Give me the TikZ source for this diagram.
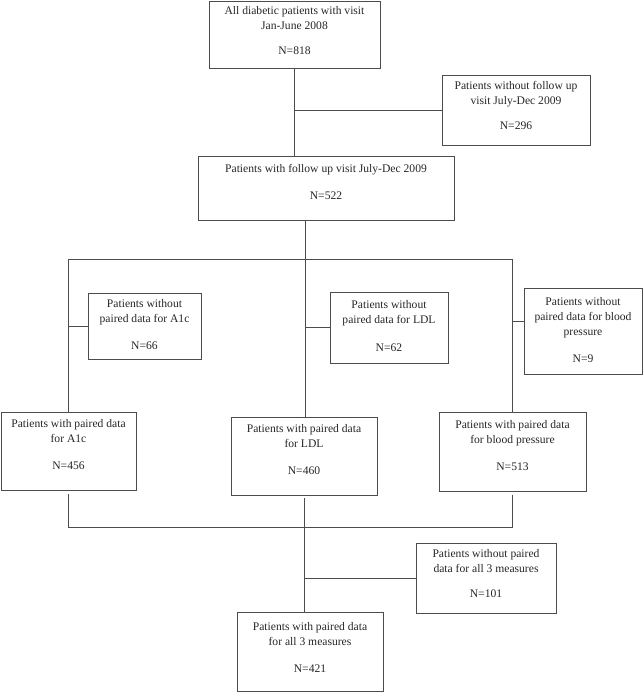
\documentclass[tikz,border=0pt]{standalone}
\usepackage{fontspec}
\setmainfont{Liberation Serif}

\begin{document}
\begin{tikzpicture}[x=1pt,y=-1pt,
    box/.style={draw=black!70,line width=0.9pt,align=center,inner sep=0pt,text=black!85,
                text depth=9pt,font=\fontsize{11.6}{15}\selectfont},
    link/.style={draw=black!70,line width=0.9pt}]

            % \draw [help lines] (0,0) grid (643,692);
            \useasboundingbox (0,0) rectangle (643,692);

            \path   (294.5,34.5) node (a) [box,minimum width=171,minimum height=67]
                        {All diabetic patients with visit\\Jan-June 2008\\[10pt]N=818}
                    (516,110) node (b) [box,minimum width=148,minimum height=70]
                        {Patients without follow up\\visit July-Dec 2009\\[10pt]N=296}
                    (326,188) node (c) [box,minimum width=256,minimum height=64,text depth=13pt]
                        {Patients with follow up visit July-Dec 2009\\[12pt]N=522}

                    (144.5,326) node (d) [box,minimum width=113,minimum height=66,text depth=3pt]
                        {Patients without\\paired data for A1c\\[12pt]N=66}
                    (389,327.5) node (e) [box,minimum width=118,minimum height=71,text depth=3pt]
                        {Patients without\\paired data for LDL\\[13pt]N=62}
                    (583,331) node (f) [box,minimum width=118,minimum height=86,text depth=3pt]
                        {Patients without\\paired data for blood\\pressure\\[12pt]N=9}

                    (68.5,451) node (g) [box,minimum width=135,minimum height=78,text depth=13pt]
                        {Patients with paired data\\for A1c\\[12pt]N=456}
                    (304,456) node (h) [box,minimum width=146,minimum height=78,text depth=13pt]
                        {Patients with paired data\\for LDL\\[12pt]N=460}
                    (512.5,451.5) node (i) [box,minimum width=147,minimum height=79,text depth=13pt]
                        {Patients with paired data\\for blood pressure\\[12pt]N=513}

                    (486,578) node (j) [box,minimum width=140,minimum height=70]
                        {Patients without paired\\data for all 3 measures\\[10pt]N=101}
                    (310,651.5) node (k) [box,minimum width=146,minimum height=79]
                        {Patients with paired data\\for all 3 measures\\[12pt]N=421};

            \coordinate (split) at (305,259);
            \coordinate (join) at (308,527);
            \coordinate (fin) at ([yshift=10pt]f.west);

            \draw[link] (a.south) -- (a.south |- c.north);
            \draw[link] (a.south |- b.west) -- (b.west);

            \draw[link] (split |- c.south) -- (split);
            \draw[link] (g.north |- split) -- (i.north |- split);
            \draw[link] (g.north |- split) -- (g.north);
            \draw[link] (split) -- (split |- h.north);
            \draw[link] (i.north |- split) -- (i.north);

            \draw[link] (g.north |- d.west) -- (d.west);
            \draw[link] (split |- e.west) -- (e.west);
            \draw[link] (fin -| i.north) -- (fin);

            \draw[link] ([yshift=-4pt]g.south) -- (g.south |- join) -- (i.south |- join) -- ([yshift=-4pt]i.south);
            \draw[link] ([yshift=-3pt]h.south) -- (h.south |- k.north);
            \draw[link] (h.south |- j.west) -- (j.west);
        \end{tikzpicture}
\end{document}
